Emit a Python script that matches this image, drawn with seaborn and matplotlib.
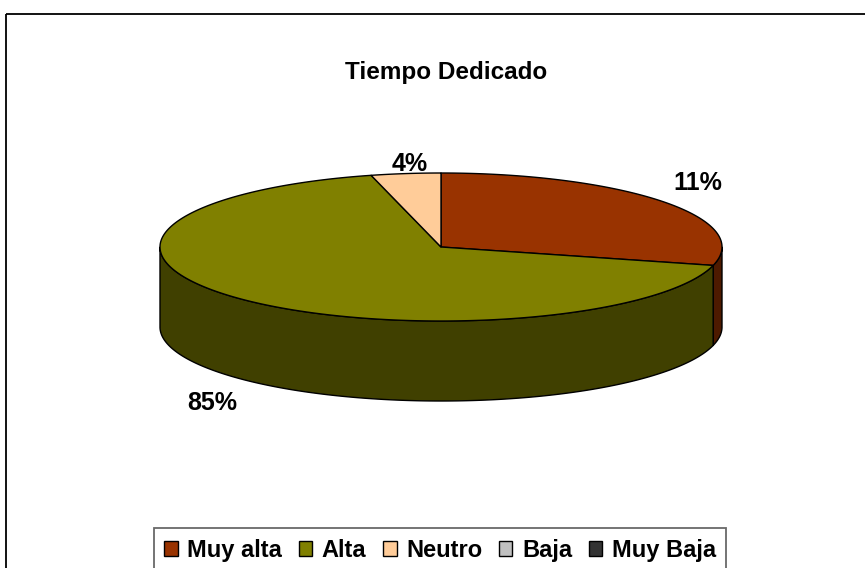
import numpy as np
import matplotlib
matplotlib.use("Agg")
import matplotlib.pyplot as plt
from matplotlib.patches import Polygon, Rectangle, Patch
import seaborn as sns

# ---- data ----
categories = ["Muy alta", "Alta", "Neutro", "Baja", "Muy Baja"]
slice_shares = [29, 67, 4, 0, 0]          # visual share of each slice (%)
label_texts = ["11%", "85%", "4%", "", ""]  # printed data labels
colors = ["#993300", "#808000", "#FFCC99", "#C0C0C0", "#333333"]
title = "Tiempo Dedicado"

sns.set_style("white")
plt.rcParams["font.family"] = ["Liberation Sans", "DejaVu Sans"]

W, H = 865, 568
fig = plt.figure(figsize=(W / 100, H / 100), dpi=100)
ax = fig.add_axes([0, 0, 1, 1])
ax.set_xlim(0, W)
ax.set_ylim(H, 0)
ax.axis("off")

# layout of the 3D pie (pixel space)
cx, cy, rx, ry, depth = 441, 247, 281, 74, 80
label_pos = [(698, 183), (212, 403), (410, 164), None, None]


def pt(t, dy=0.0):
    return cx + rx * np.cos(t), cy - ry * np.sin(t) + dy


def darker(c, f=0.5):
    r, g, b = matplotlib.colors.to_rgb(c)
    return (r * f, g * f, b * f)


# compute slice angle ranges (clockwise from 12 o'clock)
total = sum(slice_shares)
ranges = []
start = 90.0
for v in slice_shares:
    span = 360.0 * v / total
    ranges.append((start, start - span))
    start -= span

# side walls (front half only)
for (a0, a1), col, v in zip(ranges, colors, slice_shares):
    if v <= 0:
        continue
    ts = np.radians(np.linspace(a1, a0, 600))
    vis = np.sin(ts) <= 1e-9
    runs = []
    cur = []
    for t, m in zip(ts, vis):
        if m:
            cur.append(t)
        elif cur:
            runs.append(cur)
            cur = []
    if cur:
        runs.append(cur)
    for run in runs:
        run = np.array(run)
        top = [pt(t) for t in run]
        bot = [pt(t, depth) for t in run[::-1]]
        ax.add_patch(Polygon(top + bot, closed=True, facecolor=darker(col),
                             edgecolor="black", lw=1.0, joinstyle="round"))

# top faces
for (a0, a1), col, v in zip(ranges, colors, slice_shares):
    if v <= 0:
        continue
    ts = np.radians(np.linspace(a0, a1, 400))
    poly = [(cx, cy)] + [pt(t) for t in ts]
    ax.add_patch(Polygon(poly, closed=True, facecolor=col,
                         edgecolor="black", lw=1.0, joinstyle="round"))

# data labels
for txt, pos in zip(label_texts, label_pos):
    if txt and pos is not None:
        ax.text(pos[0], pos[1], txt, ha="center", va="center",
                fontsize=18, fontweight="bold", color="black")

# title
ax.text(446, 73, title, ha="center", va="center", fontsize=17.5,
        fontweight="bold", color="black")

# outer chart frame
ax.add_patch(Rectangle((6, 14), W, H, fill=False, edgecolor="black", lw=1.3))

# legend
handles = [Patch(facecolor=c, edgecolor="black", lw=1.0) for c in colors]
leg = fig.legend(handles, categories, loc="upper center",
                 bbox_to_anchor=(440 / W, 1 - 528 / H), ncol=5,
                 frameon=True, fancybox=False, edgecolor="#444444",
                 handlelength=0.58, handleheight=0.58, handletextpad=0.4,
                 columnspacing=0.7, borderpad=0.45, borderaxespad=0,
                 labelcolor="black",
                 prop={"size": 17, "weight": "bold"})
leg.get_frame().set_linewidth(1.3)

fig.savefig("out.png", dpi=100, facecolor="white")
